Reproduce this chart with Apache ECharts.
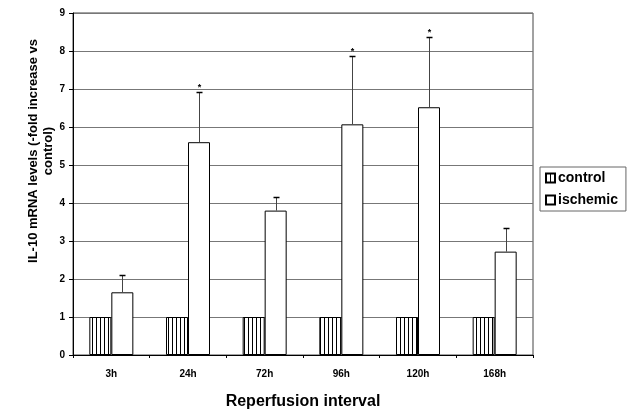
<!DOCTYPE html>
<html>
<head>
<meta charset="utf-8">
<script src="https://cdn.jsdelivr.net/npm/echarts@6/dist/echarts.min.js"></script>
<style>
html,body{margin:0;padding:0;background:#fff;}
#chart{width:633px;height:415px;}
</style>
</head>
<body>
<div id="chart"></div>
<script>
const categories = ['3h', '24h', '72h', '96h', '120h', '168h'];
const controlValues = [1, 1, 1, 1, 1, 1];
const ischemicValues = [1.65, 5.6, 3.8, 6.07, 6.52, 2.72];
const ischemicErrorTop = [2.11, 6.92, 4.15, 7.86, 8.37, 3.34];
const significant = [false, true, false, true, true, false];
const yTickMin = 0, yTickMax = 9, yTickStep = 1;

const FONT = '"Liberation Sans", Arial, sans-serif';
const BAR_W = 22;

function hatch() {
  const c = document.createElement('canvas');
  c.width = 4; c.height = 8;
  const g = c.getContext('2d');
  g.fillStyle = '#fff'; g.fillRect(0, 0, 4, 8);
  g.fillStyle = '#000'; g.fillRect(0, 0, 1, 8);
  return c;
}

const errData = categories.map((c, i) => [i, ischemicErrorTop[i], ischemicValues[i], significant[i] ? 1 : 0]);

const chart = echarts.init(document.getElementById('chart'), null, {renderer: 'canvas'});
chart.setOption({
  animation: false,
  backgroundColor: '#fff',
  textStyle: {fontFamily: FONT},
  grid: {left: 73, right: 100, top: 13, bottom: 53, show: true, borderColor: '#444', borderWidth: 1, backgroundColor: 'transparent'},
  legend: {
    orient: 'vertical', left: 540, top: 167,
    padding: [4, 8, 4, 5], itemGap: 8, itemWidth: 9, itemHeight: 9,
    borderColor: '#666', borderWidth: 1,
    icon: 'rect',
    textStyle: {fontFamily: FONT, fontWeight: 'bold', fontSize: 14, color: '#000', padding: [0, 0, 0, -2]},
    data: ['control', 'ischemic']
  },
  xAxis: {
    type: 'category', data: categories,
    axisLine: {lineStyle: {color: '#000', width: 1}},
    axisTick: {show: true, length: 3, lineStyle: {color: '#000'}},
    axisLabel: {fontFamily: FONT, fontWeight: 'bold', fontSize: 10, color: '#000', margin: 14},
    name: 'Reperfusion interval', nameLocation: 'middle', nameGap: 39,
    nameTextStyle: {fontFamily: FONT, fontWeight: 'bold', fontSize: 16, color: '#000'}
  },
  yAxis: {
    type: 'value', min: yTickMin, max: yTickMax, interval: yTickStep,
    axisLine: {show: true, lineStyle: {color: '#000', width: 1}},
    axisTick: {show: true, length: 4, lineStyle: {color: '#000'}},
    axisLabel: {fontFamily: FONT, fontWeight: 'bold', fontSize: 10, color: '#000', margin: 8},
    splitLine: {show: true, lineStyle: {color: '#777', width: 1}}
  },
  graphic: [{
    type: 'text', x: 41, y: 151, rotation: Math.PI / 2,
    style: {
      text: 'IL-10 mRNA levels (-fold increase vs\ncontrol)',
      font: 'bold 13px ' + FONT, fill: '#000',
      align: 'center', verticalAlign: 'middle', lineHeight: 15
    }
  }],
  series: [
    {
      name: 'control', type: 'bar', data: controlValues, barWidth: BAR_W, barGap: '0%',
      itemStyle: {color: {image: hatch(), repeat: 'repeat'}, borderColor: '#000', borderWidth: 1}
    },
    {
      name: 'ischemic', type: 'bar', data: ischemicValues, barWidth: BAR_W, barGap: '0%',
      itemStyle: {color: '#fff', borderColor: '#000', borderWidth: 1}
    },
    {
      name: 'err', type: 'custom', data: errData, z: 5,
      renderItem: function (params, api) {
        const top = api.coord([api.value(0), api.value(1)]);
        const base = api.coord([api.value(0), api.value(2)]);
        const x = Math.round(top[0] + BAR_W / 2) + 0.5;
        const yt = Math.round(top[1]) + 0.5;
        const children = [
          {type: 'line', shape: {x1: x, y1: base[1], x2: x, y2: yt}, style: {stroke: '#444', lineWidth: 1}},
          {type: 'line', shape: {x1: x - 3, y1: yt, x2: x + 3, y2: yt}, style: {stroke: '#000', lineWidth: 1.5}}
        ];
        if (api.value(3)) {
          children.push({type: 'text', x: x, y: yt - 5, style: {text: '*', font: 'bold 9px ' + FONT, fill: '#000', align: 'center', verticalAlign: 'middle'}});
        }
        return {type: 'group', children: children};
      }
    }
  ]
});
</script>
</body>
</html>
